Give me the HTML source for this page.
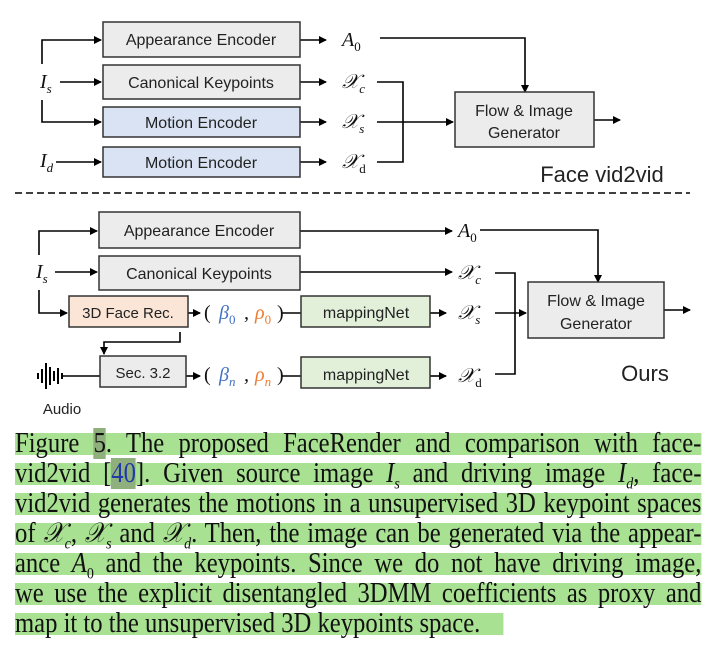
<!DOCTYPE html>
<html><head><meta charset="utf-8"><style>
body{margin:0;background:#fff;width:720px;height:661px;overflow:hidden;position:relative;font-family:"Liberation Sans",sans-serif}
svg{position:absolute;left:0;top:0}
.cap{position:absolute;left:15px;width:780px;transform:scaleX(0.88);transform-origin:0 0;font-family:"Liberation Serif",serif;font-size:28px;line-height:22px;height:22px;background:#a8e191;color:#111;text-align:justify;text-align-last:justify;white-space:nowrap}
.cap i{font-style:italic}
.cap sub{font-size:16px;line-height:0}
</style></head><body>
<svg width="720" height="430" viewBox="0 0 720 430" font-family="Liberation Sans, sans-serif">
<defs><marker id="a" markerWidth="8" markerHeight="8" refX="7" refY="4" orient="auto" markerUnits="userSpaceOnUse"><path d="M0,0 L8,4 L0,8z" fill="#000"/></marker></defs>
<g stroke="#000" stroke-width="1.6" fill="none">
<path d="M42,64 V40 H101" marker-end="url(#a)"/>
<path d="M60,82 H101" marker-end="url(#a)"/>
<path d="M42,100 V122 H101" marker-end="url(#a)"/>
<path d="M56,162 H101" marker-end="url(#a)"/>
<path d="M300,40 H326" marker-end="url(#a)"/>
<path d="M300,82 H326" marker-end="url(#a)"/>
<path d="M300,122 H326" marker-end="url(#a)"/>
<path d="M300,162 H326" marker-end="url(#a)"/>
<path d="M380,38 H525 V92" marker-end="url(#a)"/>
<path d="M377,82 H403 V162 H377"/>
<path d="M377,122 H453" marker-end="url(#a)"/>
<path d="M594,120 H620" marker-end="url(#a)"/>
<path d="M39,255 V231 H97" marker-end="url(#a)"/>
<path d="M55,272 H97" marker-end="url(#a)"/>
<path d="M39,290 V313 H67" marker-end="url(#a)"/>
<path d="M300,231 H452" marker-end="url(#a)"/>
<path d="M300,272 H452" marker-end="url(#a)"/>
<path d="M188,313 H200" marker-end="url(#a)"/>
<path d="M282,313 H301"/>
<path d="M430,313 H446" marker-end="url(#a)"/>
<path d="M180,332 V342 H104 V354" marker-end="url(#a)"/>
<path d="M62,376 H100"/>
<path d="M186,376 H200" marker-end="url(#a)"/>
<path d="M282,376 H301"/>
<path d="M430,376 H446" marker-end="url(#a)"/>
<path d="M480,230 H598 V282" marker-end="url(#a)"/>
<path d="M495,273 H515 V374 H495"/>
<path d="M495,313 H526" marker-end="url(#a)"/>
<path d="M664,310 H690" marker-end="url(#a)"/>
</g>
<path d="M15,193 H690" stroke="#000" stroke-width="1.5" stroke-dasharray="7,4"/>
<g stroke="#333" stroke-width="1.5">
<rect x="103" y="22" width="197" height="35" fill="#ececec"/>
<rect x="103" y="65" width="197" height="34" fill="#ececec"/>
<rect x="103" y="107" width="197" height="30" fill="#dae3f3"/>
<rect x="103" y="147" width="197" height="30" fill="#dae3f3"/>
<rect x="455" y="92" width="139" height="55" fill="#ececec"/>
<rect x="99" y="212" width="201" height="36" fill="#ececec"/>
<rect x="99" y="256" width="201" height="34" fill="#ececec"/>
<rect x="69" y="296" width="119" height="31" fill="#fbe5d6"/>
<rect x="301" y="296" width="129" height="31" fill="#e2f0d9"/>
<rect x="100" y="356" width="86" height="31" fill="#ececec"/>
<rect x="301" y="357" width="129" height="31" fill="#e2f0d9"/>
<rect x="528" y="282" width="136" height="56" fill="#ececec"/>
</g>
<g font-size="16" fill="#222" text-anchor="middle">
<text x="201" y="45">Appearance Encoder</text>
<text x="201" y="88">Canonical  Keypoints</text>
<text x="201" y="128">Motion Encoder</text>
<text x="201" y="168">Motion Encoder</text>
<text x="524" y="116">Flow &amp; Image</text>
<text x="524" y="138">Generator</text>
<text x="199" y="236">Appearance Encoder</text>
<text x="199" y="279">Canonical  Keypoints</text>
<text x="128" y="318" font-size="15">3D Face Rec.</text>
<text x="366" y="318">mappingNet</text>
<text x="143" y="378" font-size="15">Sec. 3.2</text>
<text x="366" y="380">mappingNet</text>
<text x="596" y="306">Flow &amp; Image</text>
<text x="596" y="329">Generator</text>
<text x="602" y="182" font-size="22">Face vid2vid</text>
<text x="645" y="381" font-size="22">Ours</text>
<text x="62" y="414" font-size="15">Audio</text>
</g>
<g font-family="Liberation Serif, serif" font-style="italic" font-size="20" fill="#111">
<text x="40" y="88">I<tspan font-size="13" dy="5">s</tspan></text>
<text x="40" y="167">I<tspan font-size="13" dy="5">d</tspan></text>
<text x="342" y="46">A<tspan font-size="13" dy="5" font-style="normal">0</tspan></text>
<text x="342" y="88">𝒳<tspan font-size="13" dy="5">c</tspan></text>
<text x="342" y="128">𝒳<tspan font-size="13" dy="5">s</tspan></text>
<text x="342" y="168">𝒳<tspan font-size="13" dy="5" font-style="normal">d</tspan></text>
<text x="36" y="278">I<tspan font-size="13" dy="5">s</tspan></text>
<text x="458" y="237">A<tspan font-size="13" dy="5" font-style="normal">0</tspan></text>
<text x="458" y="279">𝒳<tspan font-size="13" dy="5">c</tspan></text>
<text x="458" y="319">𝒳<tspan font-size="13" dy="5">s</tspan></text>
<text x="458" y="382">𝒳<tspan font-size="13" dy="5" font-style="normal">d</tspan></text>
<text x="204" y="319" font-style="normal">(</text>
<text x="219" y="319" fill="#4472c4">β<tspan font-size="13" dy="5" font-style="normal">0</tspan></text>
<text x="244" y="319">,</text>
<text x="255" y="319" fill="#ed7d31">ρ<tspan font-size="13" dy="5" font-style="normal">0</tspan></text>
<text x="277" y="319" font-style="normal">)</text>
<text x="204" y="381" font-style="normal">(</text>
<text x="219" y="381" fill="#4472c4">β<tspan font-size="13" dy="5">n</tspan></text>
<text x="244" y="381">,</text>
<text x="255" y="381" fill="#ed7d31">ρ<tspan font-size="13" dy="5">n</tspan></text>
<text x="277" y="381" font-style="normal">)</text>
</g>
<g fill="#000">
<rect x="37" y="373" width="2" height="6"/><rect x="41" y="369" width="2" height="14"/><rect x="45" y="363" width="2" height="26"/><rect x="49" y="367" width="2" height="18"/><rect x="53" y="371" width="2" height="10"/><rect x="57" y="368" width="2" height="16"/><rect x="61" y="373" width="2" height="6"/>
</g>
</svg>
<div class="cap" style="top:433px">Figure <span style="background:#8fb07d">5</span>. The proposed FaceRender and comparison with face-</div>
<div class="cap" style="top:463px">vid2vid [<span style="color:#1f3aa6;background:#8fb07d">40</span>]. Given source image <i>I<sub>s</sub></i> and driving image <i>I<sub>d</sub></i>, face-</div>
<div class="cap" style="top:493px">vid2vid generates the motions in a unsupervised 3D keypoint spaces</div>
<div class="cap" style="top:523px">of <i>𝒳<sub>c</sub></i>, <i>𝒳<sub>s</sub></i> and <i>𝒳<sub>d</sub></i>. Then, the image can be generated via the appear-</div>
<div class="cap" style="top:553px">ance <i>A</i><sub>0</sub> and the keypoints. Since we do not have driving image,</div>
<div class="cap" style="top:583px">we use the explicit disentangled 3DMM coefficients as proxy and</div>
<div class="cap" style="top:613px;width:555px;text-align-last:left">map it to the unsupervised 3D keypoints space.</div>
</body></html>
